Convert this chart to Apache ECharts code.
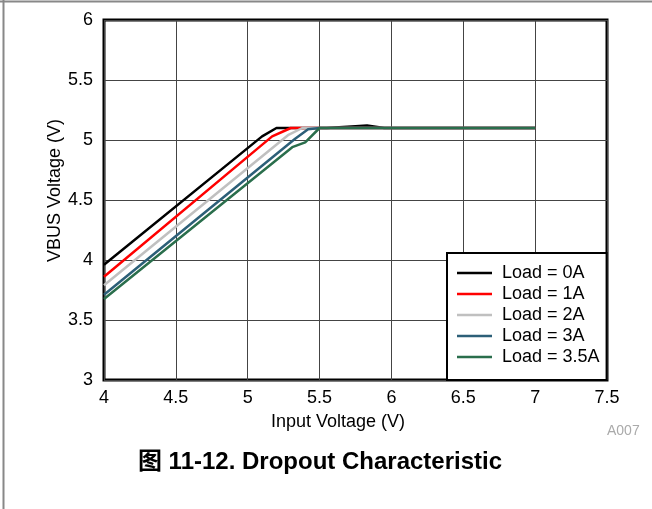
<!DOCTYPE html>
<html>
<head>
<meta charset="utf-8">
<script src="https://cdn.jsdelivr.net/npm/echarts@6/dist/echarts.min.js"></script>
<style>
  html, body { margin: 0; padding: 0; background: #fff; }
  #chart { width: 652px; height: 509px; }
</style>
</head>
<body>
<div id="chart"></div>
<script>
// [input V, VBUS V] pairs
const load0A = [[4, 3.96], [5.1, 5.03], [5.2, 5.1], [5.55, 5.1], [5.75, 5.115], [5.83, 5.12], [5.95, 5.1], [7, 5.1]];
const load1A = [[4, 3.86], [5.17, 5.03], [5.3, 5.1], [7, 5.1]];
const load2A = [[4, 3.79], [5.28, 5.04], [5.38, 5.1], [7, 5.1]];
const load3A = [[4, 3.71], [5.33, 5.01], [5.42, 5.09], [5.5, 5.1], [7, 5.1]];
const load35A = [[4, 3.675], [5.31, 4.94], [5.4, 4.98], [5.5, 5.1], [7, 5.1]];
const seriesNames = ["Load = 0A", "Load = 1A", "Load = 2A", "Load = 3A", "Load = 3.5A"];
const seriesColors = ["#000000", "#ff0000", "#c0c0c0", "#2c5f78", "#2a6e4c"];
const xTicks = { min: 4, max: 7.5, step: 0.5 };
const yTicks = { min: 3, max: 6, step: 0.5 };

const font = "Liberation Sans, Arial, Noto Sans CJK SC, sans-serif";
const chart = echarts.init(document.getElementById("chart"));

const option = {
  animation: false,
  backgroundColor: "#fff",
  textStyle: { fontFamily: font },
  grid: {
    left: 104, top: 20, width: 503, height: 360,
    show: true, borderColor: "#000", borderWidth: 3, backgroundColor: "transparent"
  },
  legend: {
    orient: "vertical",
    left: 447, top: 253,
    padding: [9.5, 7, 12.5, 10],
    icon: "rect",
    itemWidth: 35, itemHeight: 2.5, itemGap: 0,
    backgroundColor: "#fff",
    borderColor: "#000", borderWidth: 2,
    textStyle: { fontSize: 18, color: "#000", fontFamily: font, lineHeight: 21, padding: [0, 0, 0, 5] },
    data: seriesNames
  },
  xAxis: {
    type: "value",
    min: xTicks.min, max: xTicks.max, interval: xTicks.step,
    axisLine: { show: false },
    axisTick: { show: false },
    axisLabel: { fontSize: 18, color: "#000", margin: 9 },
    splitLine: { show: true, lineStyle: { color: "#444", width: 1 } }
  },
  yAxis: {
    type: "value",
    min: yTicks.min, max: yTicks.max, interval: yTicks.step,
    axisLine: { show: false },
    axisTick: { show: false },
    axisLabel: { fontSize: 18, color: "#000", margin: 11 },
    splitLine: { show: true, lineStyle: { color: "#444", width: 1 } }
  },
  graphic: [
    { type: "line", shape: { x1: 0, y1: 1.5, x2: 652, y2: 1.5 }, style: { stroke: "#888", lineWidth: 2 } },
    { type: "line", shape: { x1: 3.5, y1: 0, x2: 3.5, y2: 509 }, style: { stroke: "#888", lineWidth: 2 } },
    { type: "text", left: 55 - 9, top: 191 - 72, rotation: Math.PI / 2, originX: 0, originY: 0,
      style: { text: "VBUS Voltage (V)", fontSize: 18, fill: "#000", fontFamily: font } },
    { type: "text", x: 338, y: 422,
      style: { text: "Input Voltage (V)", fontSize: 18, fill: "#000", fontFamily: font, align: "center", verticalAlign: "middle" } },
    { type: "text", x: 607, y: 431,
      style: { text: "A007", fontSize: 14, fill: "#aaa", fontFamily: font, align: "left", verticalAlign: "middle" } },
    { type: "text", x: 320, y: 462,
      style: { text: "图 11-12. Dropout Characteristic", fontSize: 24, fontWeight: "bold", fill: "#000",
               fontFamily: font, align: "center", verticalAlign: "middle" } }
  ],
  series: [load0A, load1A, load2A, load3A, load35A].map((d, i) => ({
    name: seriesNames[i],
    type: "line",
    data: d,
    symbol: "none",
    color: seriesColors[i],
    lineStyle: { width: 2.5, color: seriesColors[i] }
  }))
};

chart.setOption(option);
</script>
</body>
</html>
